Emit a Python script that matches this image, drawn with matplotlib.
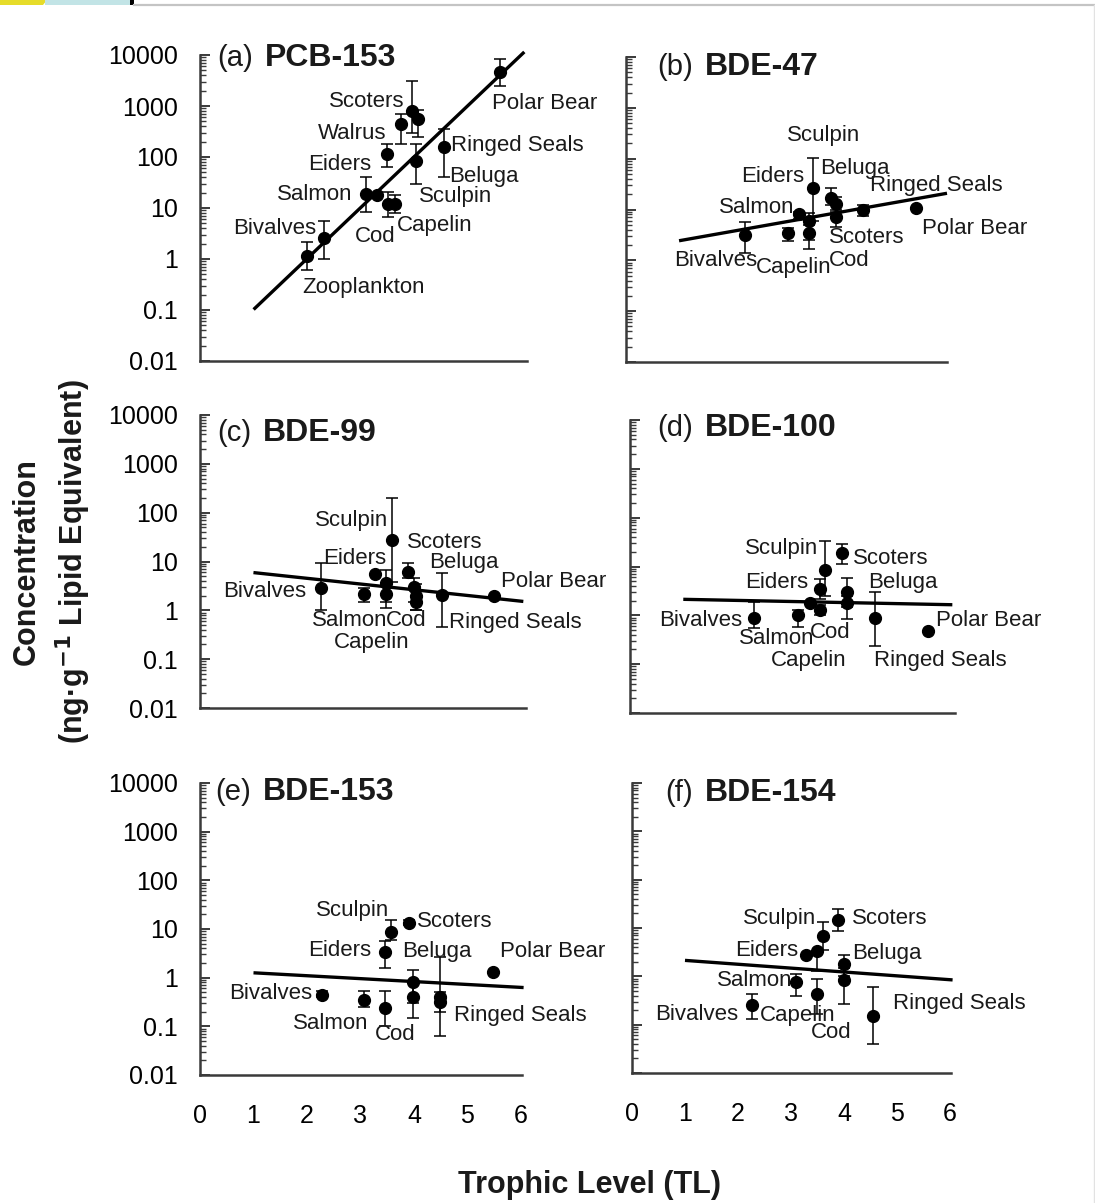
import numpy as np
import matplotlib
matplotlib.use("Agg")
import matplotlib.pyplot as plt
from matplotlib.ticker import FixedLocator, FixedFormatter, LogLocator, NullFormatter
from matplotlib.patches import Polygon, Rectangle
from matplotlib.lines import Line2D

plt.rcParams['font.family'] = ['Liberation Sans', 'DejaVu Sans']

W, H = 1095, 1203

# ---------------------------------------------------------------- data
panel_tags = ["(a)", "(b)", "(c)", "(d)", "(e)", "(f)"]
compounds = ["PCB-153", "BDE-47", "BDE-99", "BDE-100", "BDE-153", "BDE-154"]

y_ticks = [0.01, 0.1, 1, 10, 100, 1000, 10000]
y_tick_labels = ["0.01", "0.1", "1", "10", "100", "1000", "10000"]
x_ticks = [0, 1, 2, 3, 4, 5, 6]
x_tick_labels = ["0", "1", "2", "3", "4", "5", "6"]

# trophic level, mean concentration, lower and upper error bounds
tl_a = [2.00, 2.32, 3.10, 3.30, 3.50, 3.63, 3.48, 3.75, 3.96, 4.06, 4.03, 4.56, 5.59]
conc_a = [1.15, 2.6, 19, 18, 12, 12, 115, 440, 800, 550, 83, 160, 4650]
lo_a = [0.6, 1.0, 8.3, 18, 6.6, 8, 63, 178, 300, 250, 30, 40, 2500]
hi_a = [2.2, 5.6, 40, 18, 21, 18, 178, 700, 3100, 850, 180, 355, 8300]

tl_b = [2.25, 3.05, 3.26, 3.45, 3.45, 3.53, 3.87, 3.95, 3.95, 4.47, 5.47]
conc_b = [3.2, 3.5, 8, 6, 3.5, 27, 17, 12.6, 7, 10, 10.5]
lo_b = [1.4, 2.4, 6.5, 1.7, 2.5, 6, 12, 9, 4.5, 7.5, 10.5]
hi_b = [5.6, 4.4, 9, 8.7, 5, 105, 27, 18, 10, 12, 10.5]

tl_c = [2.26, 3.07, 3.27, 3.48, 3.48, 3.59, 3.90, 4.00, 4.05, 4.05, 4.52, 5.51]
conc_c = [2.8, 2.2, 5.5, 3.6, 2.2, 27, 6, 3.0, 2.0, 1.45, 2.1, 2.0]
lo_c = [1.0, 1.5, 5.5, 1.1, 1.5, 3.8, 4.5, 1.5, 1.0, 1.0, 0.45, 2.0]
hi_c = [9.2, 2.8, 5.5, 6.6, 3.5, 200, 9.2, 4.5, 3.5, 2.5, 5.7, 2.0]

tl_d = [2.32, 3.15, 3.37, 3.57, 3.57, 3.66, 3.98, 4.08, 4.08, 4.59, 5.60]
conc_d = [0.87, 1.0, 1.75, 1.27, 3.5, 8.3, 18.5, 2.95, 1.75, 0.87, 0.47]
lo_d = [0.55, 0.57, 1.75, 1.0, 2.2, 2.5, 11.5, 1.5, 0.83, 0.24, 0.47]
hi_d = [1.85, 1.27, 1.75, 1.6, 5.5, 34, 29.5, 5.7, 2.5, 2.95, 0.47]

tl_e = [2.29, 3.07, 3.46, 3.46, 3.57, 3.90, 3.98, 3.98, 4.49, 4.49, 5.48]
conc_e = [0.45, 0.35, 0.24, 3.4, 8.8, 13.5, 0.83, 0.41, 0.41, 0.32, 1.33]
lo_e = [0.4, 0.25, 0.1, 1.6, 6, 12, 0.3, 0.15, 0.062, 0.2, 1.33]
hi_e = [0.52, 0.52, 0.52, 5.7, 15, 15, 1.46, 0.8, 2.6, 0.5, 1.33]

tl_f = [2.27, 3.10, 3.29, 3.50, 3.50, 3.60, 3.88, 4.00, 4.00, 4.54]
conc_f = [0.25, 0.75, 2.7, 0.43, 3.4, 6.9, 14.8, 1.8, 0.83, 0.15]
lo_f = [0.13, 0.39, 2.7, 0.17, 1.3, 3.5, 8.8, 1.0, 0.27, 0.04]
hi_f = [0.43, 1.1, 2.7, 0.87, 3.4, 13.5, 25, 2.8, 1.5, 0.59]

# regression of log10(concentration) on trophic level
intercepts = [-1.99, 0.20, 0.89, 0.35, 0.16, 0.41]
slopes = [1.00, 0.185, -0.117, -0.022, -0.06, -0.08]
fit_tl_range = (1.0, 6.05)

species_a = ["Scoters", "Polar Bear", "Walrus", "Ringed Seals", "Eiders", "Beluga",
             "Salmon", "Sculpin", "Bivalves", "Cod", "Capelin", "Zooplankton"]
species_b = ["Sculpin", "Eiders", "Beluga", "Ringed Seals", "Salmon", "Polar Bear",
             "Scoters", "Bivalves", "Capelin", "Cod"]
species_c = ["Sculpin", "Scoters", "Eiders", "Beluga", "Polar Bear", "Bivalves",
             "Salmon", "Cod", "Capelin", "Ringed Seals"]
species_d = ["Sculpin", "Scoters", "Eiders", "Beluga", "Bivalves", "Salmon",
             "Cod", "Capelin", "Polar Bear", "Ringed Seals"]
species_e = ["Sculpin", "Scoters", "Eiders", "Beluga", "Polar Bear", "Bivalves",
             "Salmon", "Cod", "Ringed Seals"]
species_f = ["Sculpin", "Scoters", "Eiders", "Beluga", "Salmon", "Bivalves",
             "Capelin", "Cod", "Ringed Seals"]

# ---------------------------------------------------------------- layout
# axes boxes in pixels: left, top, right, bottom; x limit on the right side
AX_BOX = [(200, 55, 527, 361, 6.1), (626, 57, 947, 362, 6.05),
          (200, 415, 526, 708, 6.1), (630, 420, 955, 713, 6.1),
          (200, 783, 522, 1075, 6.02), (632, 783, 951, 1073, 6.02)]
# panel title anchor (left edge, vertical centre) in pixels
TITLE_AT = [(217, 58), (657, 67), (217, 433), (657, 428), (215, 792), (665, 793)]
# species label anchors: trophic level, log10 concentration, alignment
LABEL_AT = [
    [(3.81, 3.08, "right"), (5.44, 3.04, "left"), (3.48, 2.47, "right"),
     (4.69, 2.22, "left"), (3.20, 1.86, "right"), (4.65, 1.61, "left"),
     (2.84, 1.27, "right"), (4.09, 1.22, "left"), (2.17, 0.59, "right"),
     (2.88, 0.45, "left"), (3.68, 0.65, "left"), (1.91, -0.55, "left")],
    [(3.04, 2.45, "left"), (3.36, 1.65, "right"), (3.66, 1.80, "left"),
     (4.60, 1.47, "left"), (3.17, 1.04, "right"), (5.58, 0.63, "left"),
     (3.83, 0.45, "left"), (0.90, 0.00, "left"), (2.45, -0.14, "left"),
     (3.83, 0.00, "left")],
    [(3.53, 1.84, "right"), (3.87, 1.39, "left"), (2.30, 1.07, "left"),
     (4.28, 0.98, "left"), (5.63, 0.59, "left"), (1.98, 0.39, "right"),
     (2.10, -0.20, "left"), (3.48, -0.20, "left"), (2.50, -0.66, "left"),
     (4.65, -0.25, "left")],
    [(3.53, 1.37, "right"), (4.19, 1.16, "left"), (3.34, 0.67, "right"),
     (4.47, 0.67, "left"), (2.11, -0.10, "right"), (2.04, -0.47, "left"),
     (3.38, -0.35, "left"), (2.64, -0.92, "left"), (5.75, -0.10, "left"),
     (4.58, -0.92, "left")],
    [(3.53, 1.38, "right"), (4.05, 1.15, "left"), (3.20, 0.55, "right"),
     (3.77, 0.53, "left"), (5.61, 0.53, "left"), (2.10, -0.33, "right"),
     (1.73, -0.94, "left"), (3.27, -1.17, "left"), (4.74, -0.78, "left")],
    [(3.48, 1.19, "right"), (4.15, 1.19, "left"), (3.13, 0.53, "right"),
     (4.15, 0.47, "left"), (3.03, -0.08, "right"), (0.44, -0.80, "left"),
     (2.41, -0.80, "left"), (3.37, -1.17, "left"), (4.92, -0.57, "left")],
]

series = [(tl_a, conc_a, lo_a, hi_a), (tl_b, conc_b, lo_b, hi_b),
          (tl_c, conc_c, lo_c, hi_c), (tl_d, conc_d, lo_d, hi_d),
          (tl_e, conc_e, lo_e, hi_e), (tl_f, conc_f, lo_f, hi_f)]
species = [species_a, species_b, species_c, species_d, species_e, species_f]

fig = plt.figure(figsize=(W / 100, H / 100), dpi=100)
fig.patch.set_facecolor("white")


def fx(px):
    return px / W


def fy(py):
    return 1 - py / H


spine_col = "#3a3a3a"
for i in range(6):
    left, top, right, bottom, xmax = AX_BOX[i]
    ax = fig.add_axes([fx(left), fy(bottom), (right - left) / W, (bottom - top) / H])
    ax.set_yscale("log")
    ax.set_ylim(0.01, 10000)
    ax.set_xlim(0, xmax)
    for s in ("top", "right"):
        ax.spines[s].set_visible(False)
    for s in ("left", "bottom"):
        ax.spines[s].set_color(spine_col)
        ax.spines[s].set_linewidth(1.8)

    ax.yaxis.set_major_locator(FixedLocator(y_ticks))
    ax.yaxis.set_major_formatter(FixedFormatter(y_tick_labels))
    ax.yaxis.set_minor_locator(LogLocator(base=10, subs=np.arange(2, 10), numticks=20))
    ax.yaxis.set_minor_formatter(NullFormatter())
    ax.tick_params(axis="y", which="major", direction="in", length=7, width=1.4,
                   color=spine_col, labelsize=18, pad=16, labelleft=(i % 2 == 0))
    ax.tick_params(axis="y", which="minor", direction="in", length=4, width=1.0,
                   color=spine_col)

    ax.set_xticks(x_ticks)
    ax.set_xticklabels(x_tick_labels)
    ax.tick_params(axis="x", which="both", length=0, labelsize=18, pad=21,
                   labelbottom=(i >= 4))

    tl, conc, lo, hi = (np.asarray(v, dtype=float) for v in series[i])
    ax.errorbar(tl, conc, yerr=[conc - lo, hi - conc], fmt="o", color="black",
                ms=8.5, elinewidth=1.1, capsize=4.5, capthick=1.1, clip_on=False,
                zorder=3)

    xs = np.array(fit_tl_range)
    ax.plot(xs, 10 ** (intercepts[i] + slopes[i] * xs), color="black", lw=2.4,
            solid_capstyle="butt", clip_on=False, zorder=2)

    for name, (lx, lv, ha) in zip(species[i], LABEL_AT[i]):
        ax.text(lx, 10 ** lv, name, ha=ha, va="center", fontsize=16,
                color="#1a1a1a", zorder=4)

    tx, ty = TITLE_AT[i]
    tag = fig.text(fx(tx), fy(ty), panel_tags[i], ha="left", va="center",
                   fontsize=21, color="#1a1a1a")
    ax.annotate(compounds[i], xy=(1, 0.5), xycoords=tag, xytext=(12, 0),
                textcoords="offset pixels", ha="left", va="center",
                fontsize=23, fontweight="bold", color="#1a1a1a",
                annotation_clip=False)

# shared axis titles
fig.text(fx(52), fy(562),
         "Concentration\n(ng\u00b7g$^{\\mathbf{-1}}$ Lipid Equivalent)",
         rotation=90, ha="center", va="center", multialignment="center",
         fontsize=22, fontweight="bold", linespacing=1.4, color="#1a1a1a")
fig.text(fx(590), fy(1185), "Trophic Level (TL)", ha="center", va="center",
         fontsize=22, fontweight="bold", color="#1a1a1a")

# page header strip
fig.patches.append(Polygon([(fx(0), fy(0)), (fx(47), fy(0)), (fx(43), fy(5)),
                            (fx(0), fy(5))], closed=True, transform=fig.transFigure,
                           facecolor="#e6dc2a", edgecolor="none"))
fig.patches.append(Rectangle((fx(45), fy(5)), 85 / W, 5 / H, transform=fig.transFigure,
                             facecolor="#c2e4e6", edgecolor="none"))
fig.patches.append(Rectangle((fx(130), fy(5)), 4 / W, 5 / H, transform=fig.transFigure,
                             facecolor="black", edgecolor="none"))
fig.lines.append(Line2D([fx(134), fx(1094)], [fy(4.5), fy(4.5)],
                        transform=fig.transFigure, color="#c4c4c4", lw=1.6))
fig.lines.append(Line2D([fx(1093.5), fx(1093.5)], [fy(4.5), fy(1203)],
                        transform=fig.transFigure, color="#e2e2e2", lw=1.0))

fig.savefig("out.png", dpi=100, facecolor="white")
